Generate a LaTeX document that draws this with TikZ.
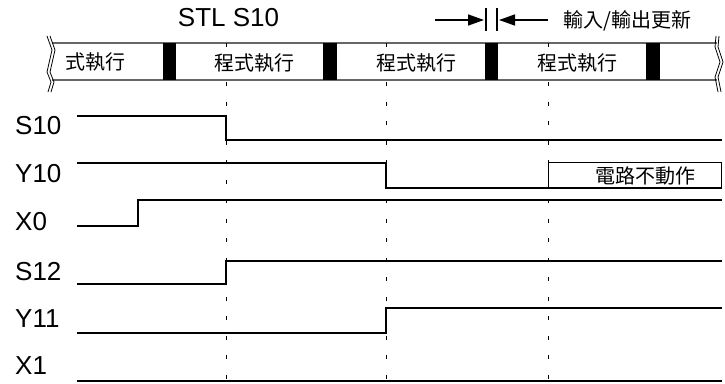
\documentclass[tikz,border=0pt]{standalone}
\usepackage{fontspec}
\setmainfont{Liberation Sans}
\newfontfamily\cjk{Noto Sans CJK TC}
\usetikzlibrary{arrows.meta}
\begin{document}
\begin{tikzpicture}[x=1pt,y=-1pt,
  lab/.style={font=\fontsize{26}{26}\selectfont, inner sep=0pt, anchor=west},
  cj/.style={font=\cjk\fontsize{20}{20}\selectfont, inner sep=0pt},
  sig/.style={line width=2pt, line join=miter},
  thinbox/.style={line width=0.9pt},
  barline/.style={draw=black!60, line width=1.6pt},
  blk/.style={fill=black},
  brk/.style={line width=0.8pt},
  tick/.style={line width=0.9pt, dash pattern=on 4pt off 15.5pt},
  ann/.style={line width=1.5pt},
  tip/.style={-{Triangle[length=16pt,width=11pt]}}]
\useasboundingbox (0,0) rectangle (725,383);
% process bar
\draw[barline] (52,43) -- (717,43);
\draw[barline] (52,80) -- (717,80);
\foreach \a/\b in {163/176,323/337,485/498,646/660}
  \fill[blk] (\a,43) rectangle (\b,80);
% break marks
\draw[brk] (47,36) -- (52,50) -- (47,72) -- (51,82) -- (48,92);
\draw[brk] (50,36) -- (55,50) -- (50,72) -- (54,82) -- (51,92);
\draw[brk] (716,36) -- (715,47) -- (720,62) -- (715,77) -- (718,92);
\draw[brk] (719,36) -- (718,47) -- (723,62) -- (718,77) -- (721,92);
% scan boundaries
\foreach \x in {226,386,548} \draw[tick] (\x,43) -- (\x,383);
% texts in bar
\node[cj] (p0) at (95,62) {式執行};
\node[cj] (p1) at (254,63) {程式執行};
\node[cj] (p2) at (416,63) {程式執行};
\node[cj] (p3) at (577,63) {程式執行};
% title
\node[lab, anchor=center] (title) at (228.5,18) {STL S10};
% io refresh annotation
\coordinate (la) at (435,20);
\coordinate (ra) at (548,20);
\coordinate (b1t) at (486,8); \coordinate (b1b) at (486,31);
\coordinate (b2t) at (497,8); \coordinate (b2b) at (497,31);
\draw[ann] (b1t) -- (b1b);
\draw[ann] (b2t) -- (b2b);
\draw[ann, tip] (la) -- (484,20);
\draw[ann, tip] (ra) -- (499,20);
\node[cj, anchor=west] (io) at (563,21) {輸入/輸出更新};
% signal labels
\node[lab] (lS10) at (15,126) {S10};
\node[lab] (lY10) at (15,174) {Y10};
\node[lab] (lX0) at (15,222) {X0};
\node[lab] (lS12) at (15,272) {S12};
\node[lab] (lY11) at (15,319) {Y11};
\node[lab] (lX1) at (15,366) {X1};
% waveforms
\draw[sig] (77,116) -- (226,116) -- (226,140) -- (722,140);
\draw[sig] (77,163) -- (386,163) -- (386,188) -- (722,188);
\draw[thinbox] (548,188) -- (548,162) -- (721,162) -- (721,188);
\node[cj, anchor=east] (nodrv) at (696,176) {電路不動作};
\draw[sig] (77,226) -- (138,226) -- (138,200) -- (722,200);
\draw[sig] (77,284) -- (226,284) -- (226,261) -- (722,261);
\draw[sig] (77,333) -- (386,333) -- (386,308) -- (722,308);
\draw[sig] (77,381) -- (722,381);
\end{tikzpicture}
\end{document}
